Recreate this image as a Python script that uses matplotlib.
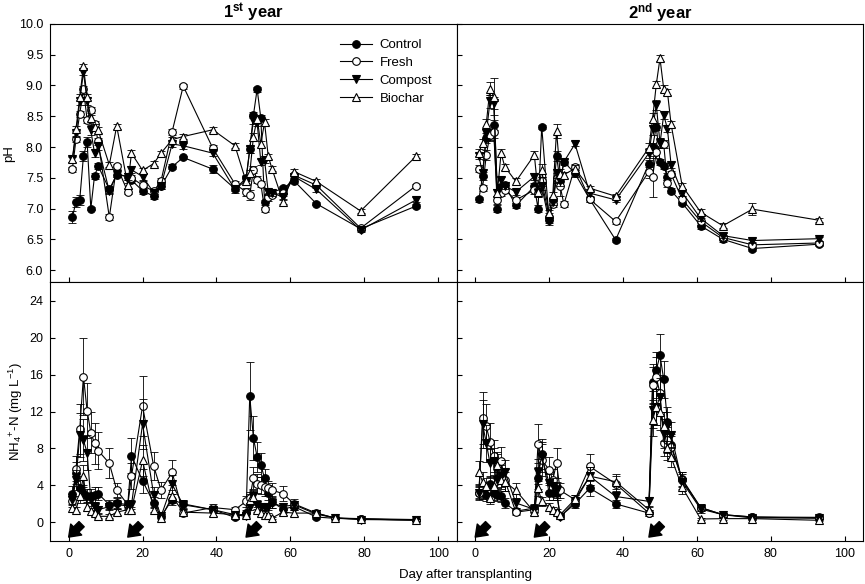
import matplotlib
matplotlib.use('Agg')
import matplotlib.pyplot as plt

plt.rcParams['font.family'] = ['Liberation Sans', 'DejaVu Sans']
plt.rcParams['mathtext.fontset'] = 'custom'
plt.rcParams['mathtext.rm'] = 'Liberation Sans'
plt.rcParams['mathtext.it'] = 'Liberation Sans:italic'
plt.rcParams['mathtext.bf'] = 'Liberation Sans:bold'

treatments = ['Control', 'Fresh', 'Compost', 'Biochar']

# ---------------- 1st year ----------------
days_ph1 = [1, 2, 3, 4, 5, 6, 7, 8, 11, 13, 16, 17, 20, 23, 25, 28, 31, 39, 45,
            48, 49, 50, 51, 52, 53, 54, 55, 58, 61, 67, 79, 94]
ph1_control = [6.86, 7.11, 7.14, 7.85, 8.08, 7.00, 7.53, 7.69, 7.31, 7.55, 7.52, 7.46, 7.29, 7.20, 7.36, 7.68,
               7.83, 7.64, 7.32, 7.49, 7.96, 8.52, 8.94, 8.47, 7.10, 7.20, 7.26, 7.33, 7.45, 7.08, 6.67, 7.04]
ph1_fresh = [7.64, 8.13, 8.54, 8.94, 8.44, 8.60, 8.37, 8.09, 6.86, 7.69, 7.27, 7.50, 7.38, 7.28, 7.45, 8.25,
             8.99, 7.98, 7.40, 7.27, 7.22, 7.63, 7.47, 7.40, 6.99, 7.18, 7.22, 7.25, 7.54, 7.38, 6.68, 7.37]
ph1_compost = [7.80, 8.22, 8.74, 9.22, 8.74, 8.27, 7.90, 8.01, 7.28, 7.56, 7.52, 7.63, 7.52, 7.26, 7.37, 8.05,
               8.02, 7.90, 7.31, 7.46, 7.96, 8.44, 8.39, 7.76, 7.79, 7.27, 7.25, 7.19, 7.52, 7.31, 6.65, 7.14]
ph1_biochar = [7.80, 8.30, 8.81, 9.31, 8.81, 8.47, 8.33, 8.27, 7.71, 8.34, 7.38, 7.90, 7.62, 7.73, 7.90, 8.12,
               8.17, 8.28, 8.02, 7.44, 7.57, 8.17, 8.46, 8.05, 8.40, 7.85, 7.65, 7.11, 7.60, 7.44, 6.96, 7.85]
ph1_control_se = [0.10, 0.08, 0.08, 0.08, 0.08, 0.03, 0.05, 0.05, 0.05, 0.04, 0.05, 0.05, 0.05, 0.04, 0.04, 0.04,
                  0.03, 0.06, 0.04, 0.05, 0.06, 0.05, 0.04, 0.05, 0.04, 0.04, 0.04, 0.04, 0.04, 0.03, 0.03, 0.03]
ph1_fresh_se = [0.04, 0.05, 0.05, 0.05, 0.05, 0.05, 0.05, 0.05, 0.05, 0.04, 0.04, 0.05, 0.06, 0.05, 0.05, 0.05,
                0.04, 0.05, 0.05, 0.06, 0.08, 0.06, 0.06, 0.05, 0.04, 0.05, 0.04, 0.05, 0.04, 0.04, 0.03, 0.03]
ph1_compost_se = [0.05, 0.05, 0.06, 0.05, 0.06, 0.08, 0.06, 0.06, 0.05, 0.05, 0.05, 0.06, 0.05, 0.05, 0.05, 0.05,
                  0.05, 0.05, 0.05, 0.06, 0.06, 0.06, 0.05, 0.05, 0.05, 0.05, 0.05, 0.05, 0.04, 0.04, 0.03, 0.04]
ph1_biochar_se = [0.04, 0.04, 0.05, 0.04, 0.05, 0.05, 0.05, 0.05, 0.04, 0.04, 0.04, 0.05, 0.04, 0.04, 0.04, 0.04,
                  0.04, 0.04, 0.04, 0.05, 0.05, 0.05, 0.05, 0.05, 0.05, 0.04, 0.04, 0.04, 0.04, 0.04, 0.03, 0.03]

days_nh1 = [1, 2, 3, 4, 5, 6, 7, 8, 11, 13, 16, 17, 20, 23, 25, 28, 31, 39, 45,
            48, 49, 50, 51, 52, 53, 54, 55, 58, 61, 67, 72, 79, 94]
nh1_control = [3.1, 5.3, 3.7, 3.2, 2.9, 2.9, 3.0, 3.1, 1.9, 2.1, 1.9, 7.2, 4.5, 2.1, 0.65, 2.45, 2.0,
               1.37, 0.54, 1.0, 13.7, 9.1, 7.1, 6.2, 4.8, 3.2, 2.2, 1.44, 1.7, 0.58, 0.43, 0.36, 0.25]
nh1_fresh = [2.3, 5.83, 10.1, 15.8, 12.1, 9.7, 8.56, 7.77, 6.4, 3.5, 1.9, 5.0, 12.6, 6.1, 3.5, 5.4, 1.0,
             1.6, 1.37, 2.27, 2.6, 4.8, 4.2, 4.0, 3.8, 3.7, 3.5, 3.1, 2.0, 1.0, 0.47, 0.4, 0.3]
nh1_compost = [2.45, 4.6, 9.46, 8.9, 7.55, 2.4, 1.7, 1.37, 1.7, 1.9, 1.8, 1.9, 10.65, 3.0, 0.65, 4.1, 1.9,
               1.37, 0.83, 0.65, 1.7, 2.8, 1.9, 1.7, 1.6, 1.7, 2.1, 1.7, 1.9, 0.9, 0.47, 0.3, 0.25]
nh1_biochar = [1.55, 1.37, 2.8, 5.0, 1.65, 1.2, 1.0, 0.65, 0.65, 1.1, 1.37, 1.37, 6.7, 1.37, 0.43, 2.8, 1.1,
               1.0, 0.83, 0.83, 2.45, 2.7, 1.37, 1.0, 0.83, 0.8, 0.47, 1.1, 1.0, 1.0, 0.47, 0.36, 0.22]
nh1_control_se = [0.8, 1.2, 0.9, 0.8, 0.7, 0.7, 0.8, 0.7, 0.5, 0.5, 0.4, 1.9, 1.3, 0.6, 0.2, 0.6, 0.4,
                  0.3, 0.2, 0.3, 3.7, 2.4, 1.6, 1.3, 1.0, 0.8, 0.6, 0.4, 0.4, 0.2, 0.1, 0.1, 0.1]
nh1_fresh_se = [0.6, 1.4, 2.7, 4.2, 3.0, 2.2, 2.2, 2.0, 1.6, 0.8, 0.5, 1.4, 3.3, 1.5, 0.9, 1.4, 0.3,
                0.4, 0.3, 0.6, 0.7, 1.2, 1.0, 0.9, 0.9, 0.8, 0.8, 0.8, 0.5, 0.3, 0.1, 0.1, 0.1]
nh1_compost_se = [0.6, 1.1, 2.4, 2.3, 1.9, 0.6, 0.5, 0.4, 0.4, 0.5, 0.5, 0.5, 2.7, 0.8, 0.2, 1.0, 0.5,
                  0.3, 0.2, 0.2, 0.4, 0.7, 0.5, 0.4, 0.4, 0.4, 0.5, 0.4, 0.4, 0.2, 0.1, 0.1, 0.1]
nh1_biochar_se = [0.4, 0.3, 0.7, 1.2, 0.4, 0.3, 0.3, 0.2, 0.2, 0.3, 0.3, 0.3, 1.7, 0.3, 0.1, 0.7, 0.3,
                  0.3, 0.2, 0.2, 0.6, 0.7, 0.3, 0.3, 0.2, 0.2, 0.1, 0.3, 0.3, 0.3, 0.1, 0.1, 0.1]

# ---------------- 2nd year ----------------
days_ph2 = [1, 2, 3, 4, 5, 6, 7, 8, 11, 16, 17, 18, 20, 21, 22, 23, 24, 27, 31, 38,
            47, 48, 49, 50, 51, 52, 53, 56, 61, 67, 75, 93]
ph2_control = [7.15, 7.53, 8.15, 8.20, 8.36, 7.00, 7.35, 7.38, 7.05, 7.36, 7.00, 8.33, 6.82, 7.14, 7.85, 7.44,
               7.76, 7.57, 7.15, 6.49, 7.73, 8.00, 8.33, 7.76, 7.69, 7.52, 7.29, 7.09, 6.72, 6.50, 6.35, 6.42]
ph2_fresh = [7.65, 7.34, 7.87, 8.20, 8.25, 7.14, 7.25, 7.30, 7.14, 7.30, 7.25, 7.44, 6.87, 7.08, 7.49, 7.36,
             7.07, 7.68, 7.15, 6.79, 7.60, 7.52, 7.92, 8.06, 8.05, 7.41, 7.56, 7.15, 6.79, 6.53, 6.41, 6.44]
ph2_compost = [7.85, 7.57, 8.22, 8.74, 8.72, 7.26, 7.46, 7.37, 7.27, 7.52, 7.25, 7.36, 6.79, 7.11, 7.57, 7.44,
               7.76, 8.05, 7.25, 7.14, 7.90, 8.30, 8.68, 8.06, 8.52, 8.30, 7.71, 7.26, 6.84, 6.56, 6.48, 6.51]
ph2_biochar = [7.91, 8.07, 8.38, 8.95, 8.82, 7.26, 7.90, 7.68, 7.44, 7.87, 7.27, 7.62, 6.92, 7.22, 8.26, 7.56,
               7.55, 7.65, 7.33, 7.20, 7.99, 8.46, 9.02, 9.44, 8.95, 8.90, 8.37, 7.37, 6.94, 6.72, 6.99, 6.81]
ph2_control_se = [0.04, 0.06, 0.08, 0.08, 0.08, 0.05, 0.05, 0.05, 0.04, 0.05, 0.05, 0.03, 0.05, 0.05, 0.08, 0.06,
                  0.05, 0.05, 0.04, 0.03, 0.06, 0.06, 0.06, 0.05, 0.05, 0.05, 0.04, 0.04, 0.05, 0.04, 0.04, 0.03]
ph2_fresh_se = [0.05, 0.05, 0.08, 0.10, 0.10, 0.06, 0.05, 0.05, 0.05, 0.06, 0.06, 0.08, 0.05, 0.05, 0.08, 0.15,
                0.05, 0.05, 0.04, 0.04, 0.10, 0.34, 0.10, 0.08, 0.06, 0.06, 0.05, 0.05, 0.05, 0.04, 0.04, 0.03]
ph2_compost_se = [0.05, 0.06, 0.08, 0.10, 0.10, 0.06, 0.06, 0.05, 0.05, 0.06, 0.06, 0.06, 0.05, 0.05, 0.08, 0.08,
                  0.04, 0.04, 0.04, 0.04, 0.08, 0.10, 0.08, 0.08, 0.06, 0.06, 0.05, 0.05, 0.05, 0.04, 0.04, 0.03]
ph2_biochar_se = [0.05, 0.06, 0.08, 0.10, 0.30, 0.06, 0.06, 0.05, 0.05, 0.06, 0.06, 0.10, 0.05, 0.05, 0.12, 0.08,
                  0.05, 0.05, 0.04, 0.04, 0.08, 0.10, 0.06, 0.05, 0.05, 0.05, 0.05, 0.05, 0.05, 0.04, 0.10, 0.03]

days_nh2 = [1, 2, 3, 4, 5, 6, 7, 8, 11, 16, 17, 18, 20, 21, 22, 23, 27, 31, 38,
            47, 48, 49, 50, 51, 52, 53, 56, 61, 67, 75, 93]
nh2_control = [3.2, 3.2, 3.0, 4.1, 3.2, 3.0, 2.8, 2.1, 1.2, 1.55, 4.8, 7.4, 3.2, 3.2, 3.2, 0.65, 2.0, 3.7,
               2.0, 1.0, 15.2, 16.5, 18.1, 15.5, 10.9, 8.4, 4.7, 1.6, 0.83, 0.58, 0.43]
nh2_fresh = [3.2, 11.3, 10.4, 8.75, 7.2, 6.05, 6.66, 4.6, 1.1, 1.37, 8.5, 6.77, 5.7, 4.6, 6.4, 3.46, 2.45,
             6.05, 4.17, 1.0, 14.86, 15.7, 13.97, 8.57, 8.9, 8.2, 4.6, 1.6, 0.83, 0.58, 0.54]
nh2_compost = [3.2, 10.65, 8.57, 6.4, 6.6, 4.6, 5.0, 5.5, 2.1, 1.4, 5.5, 7.1, 4.25, 3.9, 3.5, 0.58, 2.27,
               5.0, 2.8, 2.27, 12.2, 12.5, 13.6, 9.6, 10.4, 9.5, 4.4, 1.44, 0.83, 0.47, 0.5]
nh2_biochar = [5.4, 4.4, 3.9, 2.6, 3.9, 6.2, 4.6, 4.4, 3.46, 1.1, 3.7, 2.27, 1.65, 1.37, 1.1, 0.83, 2.5,
               5.0, 4.4, 1.37, 11.1, 12.5, 12.0, 10.4, 8.0, 7.05, 3.8, 0.36, 0.4, 0.4, 0.22]
nh2_control_se = [0.6, 0.7, 0.7, 0.9, 0.8, 0.7, 0.6, 0.5, 0.3, 0.4, 1.2, 1.6, 0.8, 0.8, 0.8, 0.2, 0.4, 0.8,
                  0.4, 0.3, 2.0, 2.0, 2.3, 2.0, 1.6, 1.2, 0.8, 0.4, 0.2, 0.2, 0.1]
nh2_fresh_se = [0.8, 2.8, 2.4, 2.0, 1.7, 1.4, 1.5, 1.2, 0.3, 0.3, 2.1, 1.7, 1.4, 1.2, 1.6, 0.8, 0.5,
                1.4, 0.9, 0.3, 2.0, 2.2, 2.0, 1.4, 1.4, 1.2, 0.8, 0.4, 0.2, 0.2, 0.2]
nh2_compost_se = [0.7, 2.6, 2.0, 1.5, 1.5, 1.1, 1.2, 1.2, 0.5, 0.4, 1.4, 1.6, 1.0, 0.9, 0.9, 0.2, 0.5,
                  1.0, 0.6, 0.5, 2.0, 2.0, 2.0, 1.6, 1.6, 1.4, 0.8, 0.4, 0.2, 0.2, 0.2]
nh2_biochar_se = [1.2, 1.0, 0.9, 0.6, 0.9, 1.4, 1.0, 1.0, 0.8, 0.3, 0.8, 0.5, 0.4, 0.3, 0.3, 0.2, 0.5,
                  1.0, 0.8, 0.3, 1.8, 2.0, 2.0, 1.6, 1.3, 1.1, 0.7, 0.1, 0.1, 0.1, 0.1]

# fertilisation days (arrows under the NH4 panels)
fert_days1 = [0, 16, 48]
fert_days2 = [0, 16, 47]

styles = {
    'Control': dict(marker='o', mfc='black'),
    'Fresh': dict(marker='o', mfc='white'),
    'Compost': dict(marker='v', mfc='black'),
    'Biochar': dict(marker='^', mfc='white'),
}

fig, axes = plt.subplots(2, 2, figsize=(8.65, 5.84), dpi=100)
fig.subplots_adjust(left=0.058, right=0.998, top=0.959, bottom=0.074, hspace=0, wspace=0)


def draw(ax, days, series, errs):
    handles = []
    for name, vals, err in zip(treatments, series, errs):
        ax.errorbar(days, vals, yerr=err, fmt='none', ecolor='black', elinewidth=0.6,
                    capsize=3, capthick=0.6)
        ln, = ax.plot(days, vals, color='black', lw=0.8, ms=5.5, mec='black', mew=0.8,
                      label=name, **styles[name])
        handles.append(ln)
    return handles


h = draw(axes[0, 0], days_ph1, [ph1_control, ph1_fresh, ph1_compost, ph1_biochar],
         [ph1_control_se, ph1_fresh_se, ph1_compost_se, ph1_biochar_se])
draw(axes[0, 1], days_ph2, [ph2_control, ph2_fresh, ph2_compost, ph2_biochar],
     [ph2_control_se, ph2_fresh_se, ph2_compost_se, ph2_biochar_se])
draw(axes[1, 0], days_nh1, [nh1_control, nh1_fresh, nh1_compost, nh1_biochar],
     [nh1_control_se, nh1_fresh_se, nh1_compost_se, nh1_biochar_se])
draw(axes[1, 1], days_nh2, [nh2_control, nh2_fresh, nh2_compost, nh2_biochar],
     [nh2_control_se, nh2_fresh_se, nh2_compost_se, nh2_biochar_se])

for ax in axes.flat:
    ax.set_xlim(-5, 105)
    ax.set_xticks([0, 20, 40, 60, 80, 100])
    for s in ax.spines.values():
        s.set_linewidth(0.8)
    # sigmaplot look: short ticks pointing into the plot
    ax.tick_params(direction='in', length=3.5, width=0.8, labelsize=9, pad=5)

for ax in axes[0]:
    ax.set_ylim(5.8, 10.0)
    ax.set_yticks([6.0, 6.5, 7.0, 7.5, 8.0, 8.5, 9.0, 9.5, 10.0])
    ax.tick_params(axis='x', labelbottom=False)
for ax in axes[1]:
    ax.set_ylim(-2, 26)
    ax.set_yticks([0, 4, 8, 12, 16, 20, 24])

for ax in axes[:, 1]:
    ax.tick_params(axis='y', labelleft=False)

axes[0, 0].yaxis.set_major_formatter(matplotlib.ticker.FormatStrFormatter('%.1f'))

axes[0, 0].set_title(r'$\mathbf{1^{st}}$ year', fontsize=12, fontweight='bold', pad=4)
axes[0, 1].set_title(r'$\mathbf{2^{nd}}$ year', fontsize=12, fontweight='bold', pad=4)
axes[0, 0].set_ylabel('pH', fontsize=9.5, labelpad=3)
axes[1, 0].set_ylabel(r'NH$_4$$^{+}$-N (mg L$^{-1}$)', fontsize=9.5, labelpad=3)
fig.text(0.538, 0.016, 'Day after transplanting', ha='center', va='center', fontsize=9.5)

axes[0, 0].legend(handles=h, loc='upper left', bbox_to_anchor=(0.70, 0.962), frameon=False,
                  fontsize=9.5, handlelength=2.4, labelspacing=0.42, borderaxespad=0, handletextpad=0.6)

# arrows marking fertiliser application
for ax, fdays in [(axes[1, 0], fert_days1), (axes[1, 1], fert_days2)]:
    for d in fdays:
        ax.annotate('', xy=(d, -1.6), xytext=(d + 3.5, -0.2),
                    arrowprops=dict(arrowstyle='simple,head_length=0.55,head_width=0.8,tail_width=0.38',
                                    fc='black', ec='black', mutation_scale=14, shrinkA=0, shrinkB=0))

fig.savefig('out.png', dpi=100)
